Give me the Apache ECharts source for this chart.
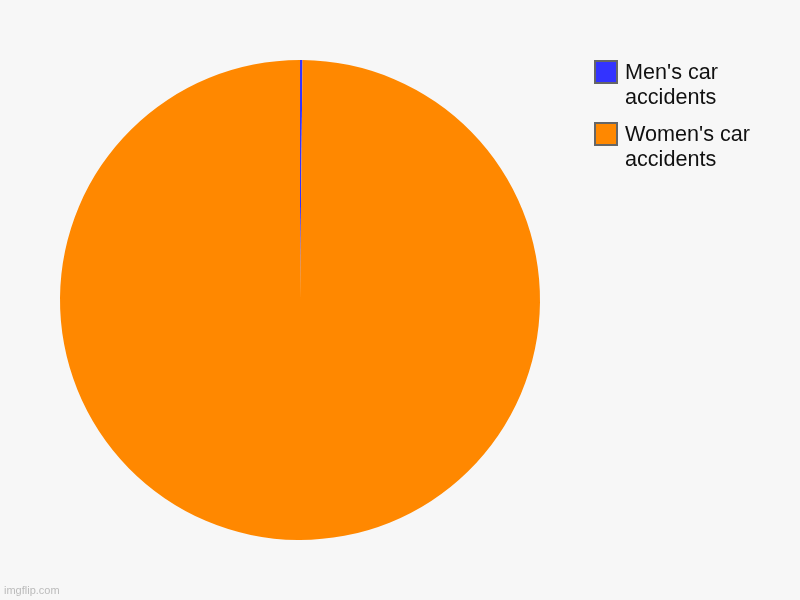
<!DOCTYPE html>
<html>
<head>
<meta charset="utf-8">
<script src="https://cdn.jsdelivr.net/npm/echarts@6/dist/echarts.min.js"></script>
<style>
html,body{margin:0;padding:0;background:#f7f7f7;}
#c{width:800px;height:600px;}
</style>
</head>
<body>
<div id="c"></div>
<script>
var categories = ["Men's car accidents", "Women's car accidents"];
var legendLabels = ["Men's car\naccidents", "Women's car\naccidents"];
var values = [1, 600];
var colors = ['#3333ff', '#ff8800'];

var chart = echarts.init(document.getElementById('c'));
var legendGraphics = [];
categories.forEach(function (name, i) {
  var top = 61 + i * 62;
  legendGraphics.push({
    type: 'rect',
    shape: { x: 595, y: top, width: 22, height: 22 },
    style: { fill: colors[i], stroke: '#666666', lineWidth: 2 }
  });
  legendGraphics.push({
    type: 'text',
    x: 625,
    y: top,
    style: {
      text: legendLabels[i],
      font: '21.6px "Liberation Sans", Arial, sans-serif',
      fill: '#111111',
      lineHeight: 25,
      verticalAlign: 'top'
    }
  });
});
legendGraphics.push({
  type: 'text',
  x: 4,
  y: 585,
  style: {
    text: 'imgflip.com',
    font: '11px "Liberation Sans", Arial, sans-serif',
    fill: '#bbbbbb'
  }
});

chart.setOption({
  backgroundColor: '#f7f7f7',
  animation: false,
  graphic: legendGraphics,
  series: [{
    type: 'pie',
    center: [300, 300],
    radius: 240,
    startAngle: 90,
    clockwise: true,
    label: { show: false },
    labelLine: { show: false },
    itemStyle: { borderWidth: 0 },
    emphasis: { disabled: true },
    data: categories.map(function (n, i) {
      return { name: n, value: values[i], itemStyle: { color: colors[i] } };
    })
  }]
});
</script>
</body>
</html>
